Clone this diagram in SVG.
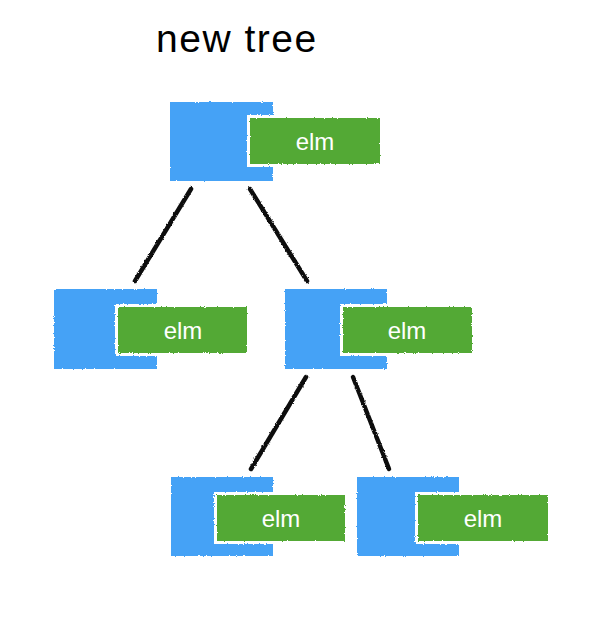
<svg xmlns="http://www.w3.org/2000/svg" width="590" height="628" viewBox="0 0 590 628">
  <defs>
    <filter id="rough" x="-5%" y="-5%" width="110%" height="110%">
      <feTurbulence type="fractalNoise" baseFrequency="0.9" numOctaves="2" seed="3" result="n"/>
      <feDisplacementMap in="SourceGraphic" in2="n" scale="2.5" xChannelSelector="R" yChannelSelector="G"/>
    </filter>
  </defs>
  <style>
    .blue { fill: #45A2F6; }
    .halo { fill: #FFFFFF; }
    .green { fill: #52A934; }
    .lbl { font-family: "Liberation Sans", Arial, sans-serif; font-size: 24px; fill: #FFFFFF; text-anchor: middle; }
    .title { font-family: "Liberation Sans", Arial, sans-serif; font-size: 39px; fill: #000000; letter-spacing: 1.5px; }
    .edge { stroke: #111111; stroke-width: 4.5; stroke-linecap: round; fill: none; }
  </style>
  <rect width="590" height="628" fill="#FFFFFF"/>
  <text class="title" x="156" y="52">new tree</text>

  <g id="connectors" filter="url(#rough)">
    <line class="edge" x1="191" y1="189" x2="135" y2="281"/>
    <line class="edge" x1="250" y1="189" x2="307" y2="281"/>
    <line class="edge" x1="306" y1="377" x2="251" y2="469"/>
    <line class="edge" x1="353" y1="377" x2="389" y2="469"/>
  </g>

  <g id="node-root">
    <g filter="url(#rough)">
      <rect class="blue" x="170" y="102" width="103" height="79"/>
      <rect class="halo" x="247" y="115" width="136" height="52"/>
      <rect class="green" x="250" y="118" width="130" height="46"/>
    </g>
    <text class="lbl" x="315" y="150">elm</text>
  </g>

  <g id="node-left">
    <g filter="url(#rough)">
      <rect class="blue" x="54" y="289" width="103" height="80"/>
      <rect class="halo" x="115" y="304" width="135" height="52"/>
      <rect class="green" x="118" y="307" width="129" height="46"/>
    </g>
    <text class="lbl" x="183" y="339">elm</text>
  </g>

  <g id="node-right">
    <g filter="url(#rough)">
      <rect class="blue" x="285" y="289" width="102" height="80"/>
      <rect class="halo" x="340" y="304" width="135" height="52"/>
      <rect class="green" x="343" y="307" width="129" height="46"/>
    </g>
    <text class="lbl" x="407" y="339">elm</text>
  </g>

  <g id="node-right-left">
    <g filter="url(#rough)">
      <rect class="blue" x="171" y="477" width="102" height="79"/>
      <rect class="halo" x="214" y="492" width="134" height="52"/>
      <rect class="green" x="217" y="495" width="128" height="46"/>
    </g>
    <text class="lbl" x="281" y="527">elm</text>
  </g>

  <g id="node-right-right">
    <g filter="url(#rough)">
      <rect class="blue" x="357" y="477" width="102" height="79"/>
      <rect class="halo" x="415" y="492" width="136" height="52"/>
      <rect class="green" x="418" y="495" width="130" height="46"/>
    </g>
    <text class="lbl" x="483" y="527">elm</text>
  </g>
</svg>
